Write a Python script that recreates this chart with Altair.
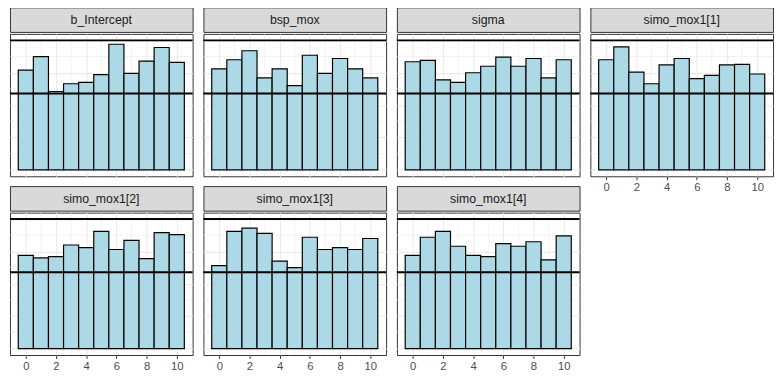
import altair as alt
import pandas as pd

# ---- data -------------------------------------------------------------
PARAMS = ["b_Intercept", "bsp_mox", "sigma", "simo_mox1[1]",
          "simo_mox1[2]", "simo_mox1[3]", "simo_mox1[4]"]
RANKS = [0, 1, 2, 3, 4, 5, 6, 7, 8, 9, 10]

b_intercept = [15.4, 17.5, 12.1, 13.3, 13.5, 14.7, 19.4, 14.9, 16.8, 18.9, 16.6]
bsp_mox = [15.6, 17.0, 18.4, 14.2, 15.6, 13.0, 17.7, 14.9, 17.2, 15.6, 14.2]
sigma = [16.7, 16.9, 13.9, 13.5, 15.0, 16.0, 17.4, 16.0, 17.2, 14.2, 17.0]
simo_1 = [17.0, 19.0, 15.1, 13.3, 16.2, 17.2, 14.1, 14.6, 16.2, 16.3, 14.8]
simo_2 = [14.4, 14.0, 14.2, 16.0, 15.6, 18.1, 15.3, 16.7, 13.9, 17.9, 17.6]
simo_3 = [12.8, 18.1, 18.6, 17.8, 13.5, 12.5, 17.2, 15.3, 15.6, 15.3, 17.0]
simo_4 = [14.4, 17.2, 18.1, 15.8, 14.4, 14.2, 16.2, 15.8, 16.5, 13.7, 17.4]
COUNTS = [b_intercept, bsp_mox, sigma, simo_1, simo_2, simo_3, simo_4]

HLINES = [11.8, 20.0]
X_MAJOR = [0, 2, 4, 6, 8, 10]
X_MINOR = [1, 3, 5, 7, 9]
Y_MAJOR = [0, 5, 10, 15, 20]
Y_MINOR = [2.5, 7.5, 12.5, 17.5]

# ---- layout / style ---------------------------------------------------
W = 186
H_STRIP = 25
H_PANEL = 145
FONT = "Liberation Sans"

x_scale = alt.Scale(domain=[-1.05, 11.05], nice=False, zero=False)
y_scale = alt.Scale(domain=[-1.0, 21.0], nice=False, zero=False)

y_axis = alt.Axis(values=Y_MAJOR, labels=False, ticks=False, domain=False,
                  grid=True, gridColor="#ebebeb", gridWidth=1.1, title=None)


def x_axis(show):
    if show:
        return alt.Axis(values=X_MAJOR, labels=True, ticks=True, domain=False,
                        grid=True, gridColor="#ebebeb", gridWidth=1.1,
                        tickColor="#333333", tickSize=3.5, tickWidth=1,
                        labelColor="#4d4d4d", labelFontSize=11.5,
                        labelFont=FONT, labelPadding=2, title=None)
    return alt.Axis(values=X_MAJOR, labels=False, ticks=False, domain=False,
                    grid=True, gridColor="#ebebeb", gridWidth=1.1, title=None)


def strip(name):
    return alt.Chart(pd.DataFrame({"label": [name]})).mark_text(
        fontSize=12.5, color="#1a1a1a", font=FONT, baseline="middle", align="center"
    ).encode(
        text="label:N", x=alt.value(W / 2), y=alt.value(H_STRIP / 2 + 0.5)
    ).properties(width=W, height=H_STRIP,
                 view=alt.ViewBackground(fill="#d9d9d9", stroke="#333333", strokeWidth=1))


def panel(name, counts, show_x):
    xa = x_axis(show_x)
    df = pd.DataFrame({"rank": RANKS, "count": counts})
    xminor = alt.Chart(pd.DataFrame({"v": X_MINOR})).mark_rule(
        color="#ebebeb", strokeWidth=0.6
    ).encode(x=alt.X("v:Q", scale=x_scale, axis=xa))
    yminor = alt.Chart(pd.DataFrame({"v": Y_MINOR})).mark_rule(
        color="#ebebeb", strokeWidth=0.6
    ).encode(y=alt.Y("v:Q", scale=y_scale, axis=y_axis))
    bars = alt.Chart(df).transform_calculate(
        x0="datum.rank - 0.5", x1="datum.rank + 0.5", base="0"
    ).mark_rect(fill="#ADD8E6", stroke="black", strokeWidth=1.2).encode(
        x=alt.X("x0:Q", scale=x_scale, axis=xa),
        x2="x1:Q",
        y=alt.Y("count:Q", scale=y_scale, axis=y_axis),
        y2="base:Q",
    )
    hl = alt.Chart(pd.DataFrame({"v": HLINES})).mark_rule(
        color="black", strokeWidth=2
    ).encode(y=alt.Y("v:Q", scale=y_scale, axis=y_axis))
    plot = alt.layer(xminor, yminor, bars, hl).properties(
        width=W, height=H_PANEL,
        view=alt.ViewBackground(fill="white", stroke="#333333", strokeWidth=1))
    return alt.vconcat(strip(name), plot, spacing=0)


cols = []
for c in range(4):
    top = panel(PARAMS[c], COUNTS[c], show_x=(c == 3))
    if c + 4 < len(PARAMS):
        bottom = panel(PARAMS[c + 4], COUNTS[c + 4], show_x=True)
        cols.append(alt.vconcat(top, bottom, spacing=8))
    else:
        cols.append(top)

chart = alt.hconcat(*cols, spacing=7).properties(
    padding={"left": 0, "top": -5, "right": 0, "bottom": 0},
    background="white",
).configure(font=FONT)

chart.save("out.html", embed_options={"renderer": "svg", "actions": False})
